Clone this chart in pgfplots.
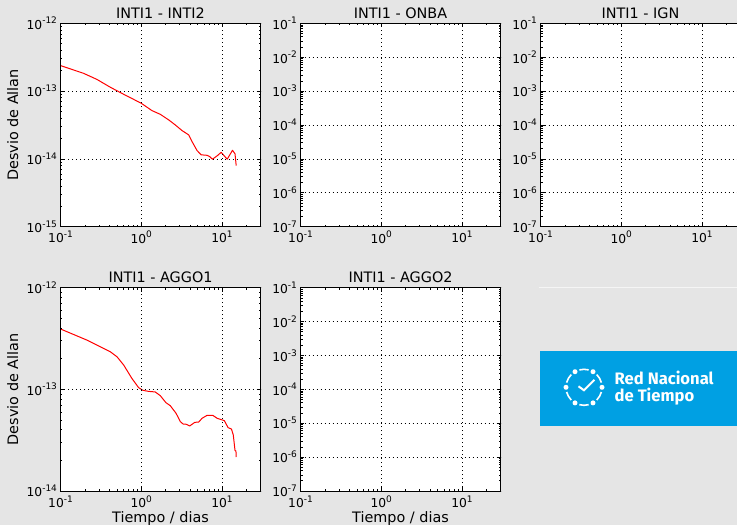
\documentclass[border=0pt]{standalone}
\usepackage{pgfplots}
\pgfplotsset{compat=1.18}
\usepackage{fontspec}
\setmainfont{DejaVu Sans}
\newfontfamily\logofont{Fira Sans}
\definecolor{bggray}{HTML}{E5E5E5}
\definecolor{logoblue}{HTML}{00A0E3}
\newcommand{\te}[1]{10\raisebox{0.42em}{\fontsize{9}{9}\selectfont #1}}
\pgfplotstableread{
x y
0.1 2.38e-13
0.193 1.83e-13
0.282 1.49e-13
0.414 1.14e-13
0.607 8.97e-14
1.0 6.62e-14
1.357 5.16e-14
1.72 4.55e-14
2.19 3.76e-14
2.64 3.17e-14
3.2 2.62e-14
3.87 2.26e-14
4.26 1.80e-14
4.91 1.33e-14
5.51 1.15e-14
6.54 1.13e-14
7.06 1.08e-14
7.62 9.9e-15
8.71 1.11e-14
9.77 1.25e-14
11.6 9.9e-15
13.5 1.34e-14
14.5 1.19e-14
15.0 7.98e-15
}\intitwo
\pgfplotstableread{
x y
0.1 3.92e-13
0.212 3.05e-13
0.414 2.34e-13
0.501 2.09e-13
0.607 1.73e-13
0.766 1.28e-13
0.927 1.04e-13
1.05 9.77e-14
1.23 9.55e-14
1.49 9.42e-14
1.72 8.67e-14
2.02 7.4e-14
2.29 6.9e-14
2.7 5.81e-14
3.05 4.81e-14
3.3 4.56e-14
3.62 4.53e-14
3.98 4.36e-14
4.6 4.73e-14
5.15 4.77e-14
5.67 5.19e-14
6.54 5.55e-14
7.69 5.55e-14
8.71 5.19e-14
10.7 4.92e-14
11.9 4.2e-14
13.1 4.07e-14
13.8 3.56e-14
14.5 2.51e-14
14.9 2.47e-14
15.0 2.16e-14
}\aggoone
\pgfplotsset{
  rntpanel/.style={
    scale only axis, width=200pt, height=203.4pt, anchor=south west,
    xmin=0.1, xmax=30,
    xtick={0.1,1,10}, xticklabels={\te{-1},\te{0},\te{1}},
    minor xtick={0.2,0.3,0.4,0.5,0.6,0.7,0.8,0.9,2,3,4,5,6,7,8,9,20,30},
    axis background/.style={fill=white},
    axis line style={black, line width=0.9pt},
    tick style={black, line width=0.6pt},
    major tick length=4pt, minor tick length=2pt,
    tick align=inside,
    xmajorgrids, ymajorgrids,
    major grid style={black, line width=0.7pt, dash pattern=on 1pt off 3pt},
    tick label style={font=\fontsize{12.3}{13}\selectfont},
    xticklabel style={yshift=-1pt},
    title style={font=\fontsize{14.4}{15}\selectfont, yshift=-4.5pt},
    label style={font=\fontsize{14.4}{15}\selectfont},
    ylabel style={yshift=1.5pt},
    xlabel style={yshift=3pt},
    axis on top,
  },
  rntempty/.style={
    rntpanel, ymin=1e-7, ymax=1e-1,
    ytick={1e-7,1e-6,1e-5,1e-4,1e-3,1e-2,1e-1},
    yticklabels={\te{-7},\te{-6},\te{-5},\te{-4},\te{-3},\te{-2},\te{-1}},
    minor ytick={2e-7,3e-7,4e-7,5e-7,6e-7,7e-7,8e-7,9e-7,2e-6,3e-6,4e-6,5e-6,6e-6,7e-6,8e-6,9e-6,2e-5,3e-5,4e-5,5e-5,6e-5,7e-5,8e-5,9e-5,2e-4,3e-4,4e-4,5e-4,6e-4,7e-4,8e-4,9e-4,2e-3,3e-3,4e-3,5e-3,6e-3,7e-3,8e-3,9e-3,2e-2,3e-2,4e-2,5e-2,6e-2,7e-2,8e-2,9e-2},
  },
}
\begin{document}
\begin{tikzpicture}[x=1pt,y=1pt]
\useasboundingbox (0,0) rectangle (737,525);
\clip (0,0) rectangle (737,525);
\fill[bggray] (0,0) rectangle (737,525);

\begin{loglogaxis}[rntpanel, at={(60.5pt,298.3pt)}, title={INTI1 - INTI2}, ylabel={Desvio de Allan},
  ymin=1e-15, ymax=1e-12,
  ytick={1e-15,1e-14,1e-13,1e-12}, yticklabels={\te{-15},\te{-14},\te{-13},\te{-12}},
  minor ytick={2e-15,3e-15,4e-15,5e-15,6e-15,7e-15,8e-15,9e-15,2e-14,3e-14,4e-14,5e-14,6e-14,7e-14,8e-14,9e-14,2e-13,3e-13,4e-13,5e-13,6e-13,7e-13,8e-13,9e-13}]
\addplot[red, line width=1pt, line join=round] table[x=x,y=y] {\intitwo};
\end{loglogaxis}

\begin{loglogaxis}[rntempty, at={(300.5pt,298.3pt)}, title={INTI1 - ONBA}]
\end{loglogaxis}

\begin{loglogaxis}[rntempty, at={(540.5pt,298.3pt)}, title={INTI1 - IGN}]
\end{loglogaxis}

\begin{loglogaxis}[rntpanel, at={(60.5pt,34pt)}, title={INTI1 - AGGO1}, ylabel={Desvio de Allan}, xlabel={Tiempo / dias},
  ymin=1e-14, ymax=1e-12,
  ytick={1e-14,1e-13,1e-12}, yticklabels={\te{-14},\te{-13},\te{-12}},
  minor ytick={2e-14,3e-14,4e-14,5e-14,6e-14,7e-14,8e-14,9e-14,2e-13,3e-13,4e-13,5e-13,6e-13,7e-13,8e-13,9e-13}]
\addplot[red, line width=1pt, line join=round] table[x=x,y=y] {\aggoone};
\end{loglogaxis}

\begin{loglogaxis}[rntempty, at={(300.5pt,34pt)}, title={INTI1 - AGGO2}, xlabel={Tiempo / dias}]
\end{loglogaxis}

% thin rule and logo
\draw[color=white!60!bggray, line width=0.7pt] (539,237.7) -- (737,237.7);
\fill[logoblue] (539.5,99) rectangle (737,174.3);
\begin{scope}[shift={(584,137.7)}, white]
  \foreach \a in {0,60,120,180,240,300} \fill (\a:18) circle (2.5);
  \foreach \a in {0,60,120,180,240,300}
    \draw[line width=1.6pt] ({\a+15}:18) arc[start angle={\a+15}, end angle={\a+45}, radius=18];
  \draw[line width=2pt] (-5.5,1) -- (0,-3) -- (10.5,7.5);
\end{scope}
\node[anchor=west, white, inner sep=0pt, align=left, font=\logofont\bfseries\fontsize{16.6}{16.5}\selectfont] at (614.5,137) {Red Nacional\\de Tiempo};
\end{tikzpicture}
\end{document}
